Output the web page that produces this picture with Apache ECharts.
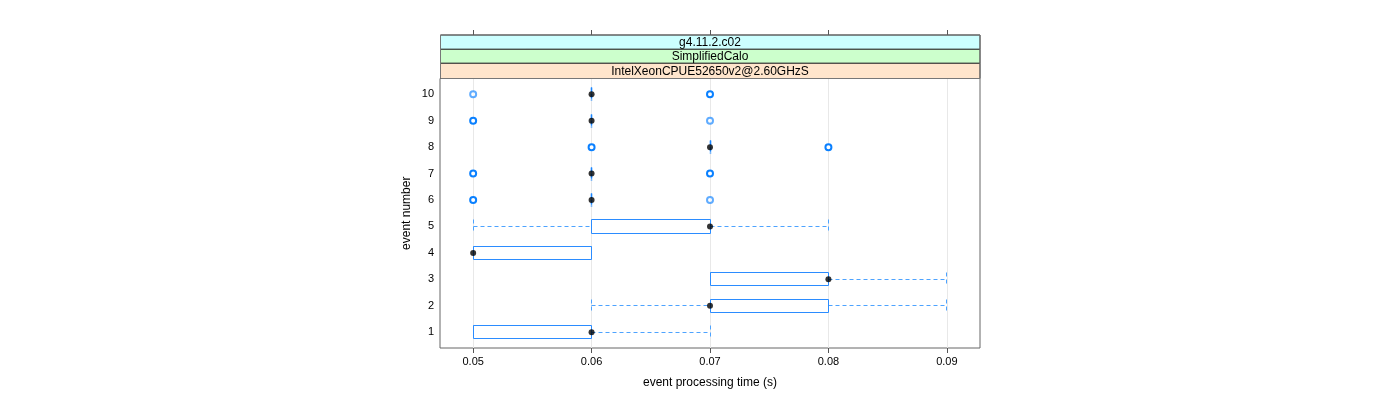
<!DOCTYPE html>
<html>
<head>
<meta charset="utf-8">
<script src="https://cdn.jsdelivr.net/npm/echarts@6/dist/echarts.min.js"></script>
<style>
html,body{margin:0;padding:0;background:#fff;}
#chart{width:1400px;height:400px;}
</style>
</head>
<body>
<div id="chart"></div>
<script>
// ---- data ----
const events = [1, 2, 3, 4, 5, 6, 7, 8, 9, 10];
// per event: [min, q1, median, q3, max]
const boxStats = [
  [0.05, 0.05, 0.06, 0.06, 0.07],
  [0.06, 0.07, 0.07, 0.08, 0.09],
  [0.07, 0.07, 0.08, 0.08, 0.09],
  [0.05, 0.05, 0.05, 0.06, 0.06],
  [0.05, 0.06, 0.07, 0.07, 0.08],
  [0.06, 0.06, 0.06, 0.06, 0.06],
  [0.06, 0.06, 0.06, 0.06, 0.06],
  [0.07, 0.07, 0.07, 0.07, 0.07],
  [0.06, 0.06, 0.06, 0.06, 0.06],
  [0.06, 0.06, 0.06, 0.06, 0.06]
];
// outliers: [time, event, count]
const outliers = [
  [0.05, 6, 2], [0.07, 6, 1],
  [0.05, 7, 2], [0.07, 7, 2],
  [0.06, 8, 2], [0.08, 8, 2],
  [0.05, 9, 2], [0.07, 9, 1],
  [0.05, 10, 1], [0.07, 10, 2]
];
const xTicks = [0.05, 0.06, 0.07, 0.08, 0.09];
const yTicks = [1, 2, 3, 4, 5, 6, 7, 8, 9, 10];
const stripLabels = ['g4.11.2.c02', 'SimplifiedCalo', 'IntelXeonCPUE52650v2@2.60GHzS'];
const xTitle = 'event processing time (s)';
const yTitle = 'event number';

// ---- layout / style ----
const FONT = 'Liberation Sans, Arial, sans-serif';
const boxColor = '#2b8cff';
const whiskColor = '#4da3ff';
const outlierColor = '#0a80ff';
const gridL = 440, gridR = 980, gridT = 78.5, gridB = 348;
const stripY = [35, 49.3, 63.3, 78.5];
const stripColors = ['#ccffff', '#ccffcc', '#ffe5cc'];

const boxData = events.map((e, i) => [e].concat(boxStats[i]));
const medianData = events.map((e, i) => [boxStats[i][2], e]);

function crisp(v) { return Math.round(v - 0.5) + 0.5; }

function renderBox(params, api) {
  const ev = api.value(0);
  const mn = api.value(1), q1 = api.value(2), q3 = api.value(4), mx = api.value(5);
  const h = api.size([0, 1])[1] * 0.5;
  const cy = api.coord([q1, ev])[1];
  const xMin = crisp(api.coord([mn, ev])[0]);
  const xQ1 = crisp(api.coord([q1, ev])[0]);
  const xQ3 = crisp(api.coord([q3, ev])[0]);
  const xMax = crisp(api.coord([mx, ev])[0]);
  const yTop = crisp(cy - h / 2), yBot = crisp(cy + h / 2), yMid = crisp(cy);
  const dashed = { stroke: whiskColor, lineWidth: 1, lineDash: [4, 3], fill: null };
  const solid = { stroke: boxColor, lineWidth: 1, fill: null };
  const ch = [];
  // whiskers
  if (mn < q1) ch.push({ type: 'line', shape: { x1: xMin, y1: yMid, x2: xQ1, y2: yMid }, style: dashed });
  ch.push({ type: 'line', shape: { x1: xMin, y1: yTop, x2: xMin, y2: yBot }, style: dashed });
  if (mx > q3) ch.push({ type: 'line', shape: { x1: xQ3, y1: yMid, x2: xMax, y2: yMid }, style: dashed });
  ch.push({ type: 'line', shape: { x1: xMax, y1: yTop, x2: xMax, y2: yBot }, style: dashed });
  // box
  if (xQ3 > xQ1) {
    ch.push({ type: 'rect', shape: { x: xQ1, y: yTop, width: xQ3 - xQ1, height: yBot - yTop }, style: solid });
  } else {
    ch.push({ type: 'line', shape: { x1: xQ1, y1: yTop, x2: xQ1, y2: yBot },
      style: { stroke: '#1a85ff', lineWidth: 1.6, lineDash: [5, 1], fill: null } });
  }
  return { type: 'group', children: ch };
}

const chart = echarts.init(document.getElementById('chart'), null, { renderer: 'canvas' });

const graphics = [];
for (let i = 0; i < 3; i++) {
  graphics.push({
    type: 'rect', z: 10,
    shape: { x: gridL + 0.5, y: stripY[i], width: gridR - gridL - 0.5, height: stripY[i + 1] - stripY[i] },
    style: { fill: stripColors[i], stroke: '#333', lineWidth: 1 }
  });
  graphics.push({
    type: 'text', z: 11,
    x: (gridL + gridR) / 2, y: (stripY[i] + stripY[i + 1]) / 2 + 0.5,
    style: { text: stripLabels[i], fontFamily: FONT, fontSize: 12, fill: '#000', align: 'center', verticalAlign: 'middle' }
  });
}
graphics.push({
  type: 'rect', z: 12,
  shape: { x: gridL + 0.5, y: stripY[0], width: gridR - gridL - 0.5, height: stripY[3] - stripY[0] },
  style: { fill: null, stroke: '#777', lineWidth: 1 }
});

const option = {
  animation: false,
  backgroundColor: '#fff',
  textStyle: { fontFamily: FONT },
  grid: {
    left: gridL, right: 1400 - gridR, top: gridT, bottom: 400 - gridB,
    show: true, borderColor: '#666', borderWidth: 1, backgroundColor: 'transparent'
  },
  graphic: graphics,
  xAxis: [
    {
      type: 'value', min: 0.0472, max: 0.0928, position: 'bottom',
      axisLine: { show: false },
      axisTick: { show: true, length: 5, lineStyle: { color: '#555' }, customValues: xTicks },
      axisLabel: {
        show: true, customValues: xTicks, margin: 8, fontSize: 11, color: '#000', fontFamily: FONT,
        formatter: v => v.toFixed(2)
      },
      splitLine: { show: false },
      name: xTitle, nameLocation: 'middle', nameGap: 29,
      nameTextStyle: { fontSize: 12, color: '#000', fontFamily: FONT }
    },
    {
      type: 'value', min: 0.0472, max: 0.0928, position: 'top', offset: gridT - stripY[0],
      axisLine: { show: false },
      axisTick: { show: true, length: 5, lineStyle: { color: '#555' }, customValues: xTicks },
      axisLabel: { show: false, customValues: xTicks },
      splitLine: { show: false }
    }
  ],
  yAxis: {
    type: 'value', min: 0.4, max: 10.6,
    axisLine: { show: false },
    axisTick: { show: false, customValues: yTicks },
    axisLabel: { show: true, customValues: yTicks, margin: 6, fontSize: 11, color: '#000', fontFamily: FONT },
    splitLine: { show: false },
    name: yTitle, nameLocation: 'middle', nameGap: 27, nameRotate: 90,
    nameTextStyle: { fontSize: 12, color: '#000', fontFamily: FONT }
  },
  series: [
    {
      type: 'scatter', data: [], z: 0, silent: true,
      markLine: {
        z: 0, silent: true, symbol: 'none', label: { show: false },
        lineStyle: { color: '#e8e8e8', width: 1, type: 'solid' },
        data: xTicks.map(v => ({ xAxis: v }))
      }
    },
    {
      type: 'custom', renderItem: renderBox, data: boxData, z: 2, silent: true,
      encode: { x: [1, 2, 3, 4, 5], y: 0 }
    },
    {
      type: 'scatter', z: 3, silent: true, symbol: 'emptyCircle', symbolSize: 6,
      data: outliers.map(o => ({
        value: [o[0], o[1]],
        itemStyle: { opacity: o[2] > 1 ? 1 : 0.65, borderWidth: o[2] > 1 ? 1.8 : 1.2 }
      })),
      itemStyle: { color: outlierColor, borderColor: outlierColor }
    },
    {
      type: 'scatter', z: 4, silent: true, symbol: 'circle', symbolSize: 6,
      data: medianData, itemStyle: { color: '#000' }
    }
  ]
};
chart.setOption(option);
</script>
</body>
</html>
